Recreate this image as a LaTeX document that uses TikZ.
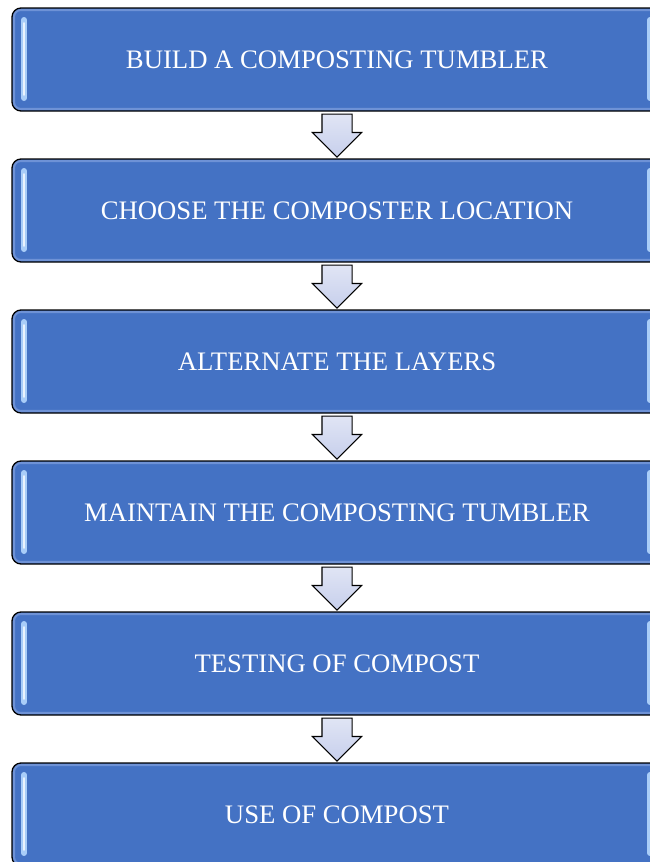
\documentclass[tikz,border=0pt]{standalone}
\usepackage{fontspec}
\setmainfont{Liberation Serif}
\usetikzlibrary{positioning,shapes.arrows}
\definecolor{boxblue}{HTML}{4472C4}
\definecolor{rimblue}{HTML}{6E92D6}
\definecolor{glossblue}{HTML}{A9CDF8}
\definecolor{arrowfill}{HTML}{C7CFEC}

\begin{document}
\begin{tikzpicture}[
    stepbox/.style={rectangle,rounded corners=9pt,draw=black,line width=1.3pt,
        fill=boxblue,minimum width=650pt,minimum height=103pt,outer sep=0pt,
        text=white,font=\fontsize{26.7}{31}\selectfont,
        path picture={
            % lighter rim just inside the frame
            \draw[rimblue,line width=2.5pt,rounded corners=7pt]
                ([shift={(1.8pt,-1.8pt)}]path picture bounding box.north west)
                rectangle ([shift={(-1.8pt,1.8pt)}]path picture bounding box.south east);
            % glossy strips at both ends
            \draw[glossblue,line width=6pt,line cap=round]
                ([shift={(12pt,-12pt)}]path picture bounding box.north west) -- ++(0,-78pt);
            \draw[white!75!glossblue,line width=1.6pt,line cap=round]
                ([shift={(12pt,-15pt)}]path picture bounding box.north west) -- ++(0,-72pt);
            \draw[glossblue,line width=6pt,line cap=round]
                ([shift={(-12pt,-12pt)}]path picture bounding box.north east) -- ++(0,-78pt);
        }},
    downarrow/.style={single arrow,draw=black,line width=1.1pt,
        top color=arrowfill!55!white,bottom color=arrowfill,
        shading angle=0,minimum height=43pt,inner xsep=0pt,inner ysep=14.5pt,
        single arrow head extend=9.5pt,rotate=-90,anchor=tail},
]
\useasboundingbox (0,0) rectangle (650pt,-862pt);

\node[stepbox] (b1) at (337pt,-59.5pt) {BUILD A COMPOSTING TUMBLER};
\node[stepbox,below=48pt of b1] (b2) {CHOOSE THE COMPOSTER LOCATION};
\node[stepbox,below=48pt of b2] (b3) {ALTERNATE THE LAYERS};
\node[stepbox,below=48pt of b3] (b4) {MAINTAIN THE COMPOSTING TUMBLER};
\node[stepbox,below=48pt of b4] (b5) {TESTING OF COMPOST};
\node[stepbox,below=48pt of b5] (b6) {USE OF COMPOST};

% block arrows hanging below each step
\foreach \i in {1,...,5}
    \node[downarrow] (a\i) at ([yshift=-2.5pt]b\i.south) {};

\end{tikzpicture}
\end{document}
